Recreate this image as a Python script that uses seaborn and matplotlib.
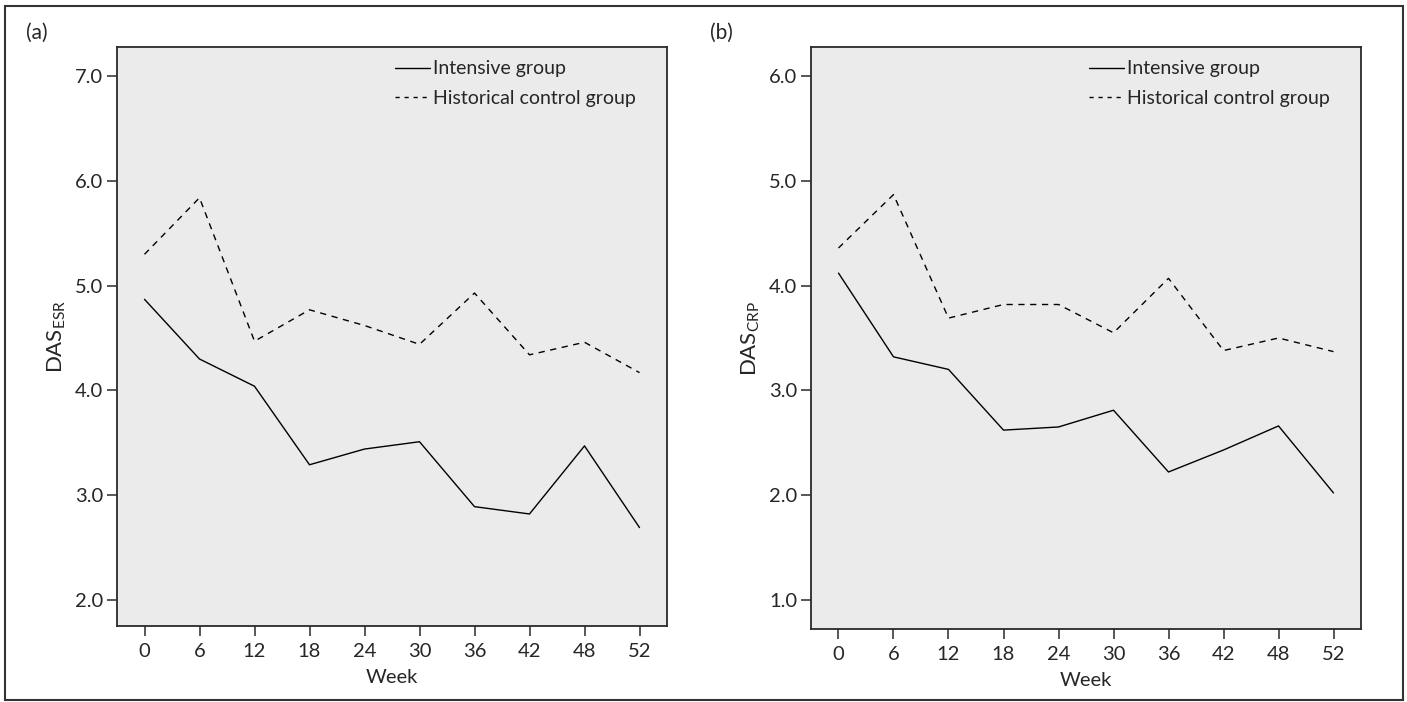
import matplotlib
matplotlib.use("Agg")
import matplotlib.pyplot as plt
import pandas as pd
import seaborn as sns
from matplotlib.patches import Rectangle
from matplotlib.ticker import FormatStrFormatter

weeks = ["0", "6", "12", "18", "24", "30", "36", "42", "48", "52"]
groups = ["Intensive group", "Historical control group"]

# panel (a): DAS-ESR
esr_intensive = [4.87, 4.30, 4.04, 3.29, 3.44, 3.51, 2.89, 2.82, 3.47, 2.69]
esr_control = [5.30, 5.84, 4.47, 4.77, 4.62, 4.44, 4.93, 4.34, 4.46, 4.17]

# panel (b): DAS-CRP
crp_intensive = [4.12, 3.32, 3.20, 2.62, 2.65, 2.81, 2.22, 2.43, 2.66, 2.02]
crp_control = [4.36, 4.87, 3.69, 3.82, 3.82, 3.55, 4.07, 3.38, 3.50, 3.37]

W, H = 1407, 702


def make_frame(intensive, control):
    return pd.DataFrame({
        "Week": weeks * 2,
        "value": intensive + control,
        "group": [groups[0]] * len(weeks) + [groups[1]] * len(weeks),
    })


def draw_panel(ax, intensive, control, ylabel, ylim, yticks):
    df = make_frame(intensive, control)
    sns.lineplot(data=df, x="Week", y="value", style="group", style_order=groups,
                 dashes=["", (4.5, 4)], color="black", linewidth=1.0,
                 sort=False, errorbar=None, ax=ax)
    handles, labels = ax.get_legend_handles_labels()
    leg = ax.legend(handles, labels, frameon=False, loc="upper left",
                    bbox_to_anchor=(0.505, 0.977), borderpad=0, borderaxespad=0,
                    handlelength=1.8, handletextpad=0.15, labelspacing=0.65,
                    fontsize=14)
    for h in leg.legend_handles:
        h.set_color("black")
        h.set_linewidth(1.0)
    leg.legend_handles[1].set_dashes((3, 3.5))

    ax.set_facecolor("#EBEBEB")
    ax.set_xlim(-0.5, 9.5)
    ax.set_ylim(*ylim)
    ax.set_yticks(yticks)
    ax.yaxis.set_major_formatter(FormatStrFormatter("%.1f"))
    for s in ax.spines.values():
        s.set_visible(True)
        s.set_color("#2a2a2a")
        s.set_linewidth(1.3)
    ax.tick_params(length=7, width=1.1, color="#2a2a2a", labelsize=14.5, pad=3)
    ax.tick_params(axis="x", pad=5)
    ax.set_xlabel("Week", fontsize=14.5, labelpad=7)
    ax.set_ylabel(ylabel, fontsize=16, labelpad=5)


sns.set_style("ticks")
plt.rcParams["font.family"] = ["Lato", "DejaVu Sans"]
plt.rcParams["mathtext.fontset"] = "custom"
plt.rcParams["mathtext.rm"] = "Lato"
plt.rcParams["mathtext.it"] = "Lato:italic"

fig = plt.figure(figsize=(W / 100, H / 100), dpi=100)
fig.patch.set_facecolor("white")

ax1 = fig.add_axes([117 / W, (H - 626) / H, 550 / W, 579 / H])
ax2 = fig.add_axes([811 / W, (H - 629) / H, 550 / W, 582 / H])

draw_panel(ax1, esr_intensive, esr_control, r"DAS$_{\mathrm{ESR}}$",
           (1.75, 7.28), [2.0, 3.0, 4.0, 5.0, 6.0, 7.0])
draw_panel(ax2, crp_intensive, crp_control, r"DAS$_{\mathrm{CRP}}$",
           (0.72, 6.28), [1.0, 2.0, 3.0, 4.0, 5.0, 6.0])

fig.text(26 / W, 1 - 33 / H, "(a)", fontsize=15, va="center")
fig.text(710 / W, 1 - 33 / H, "(b)", fontsize=15, va="center")

fig.add_artist(Rectangle((5 / W, 2 / H), 1398 / W, 694 / H, transform=fig.transFigure,
                         fill=False, edgecolor="#333333", linewidth=1.5))

fig.savefig("out.png", dpi=100)
